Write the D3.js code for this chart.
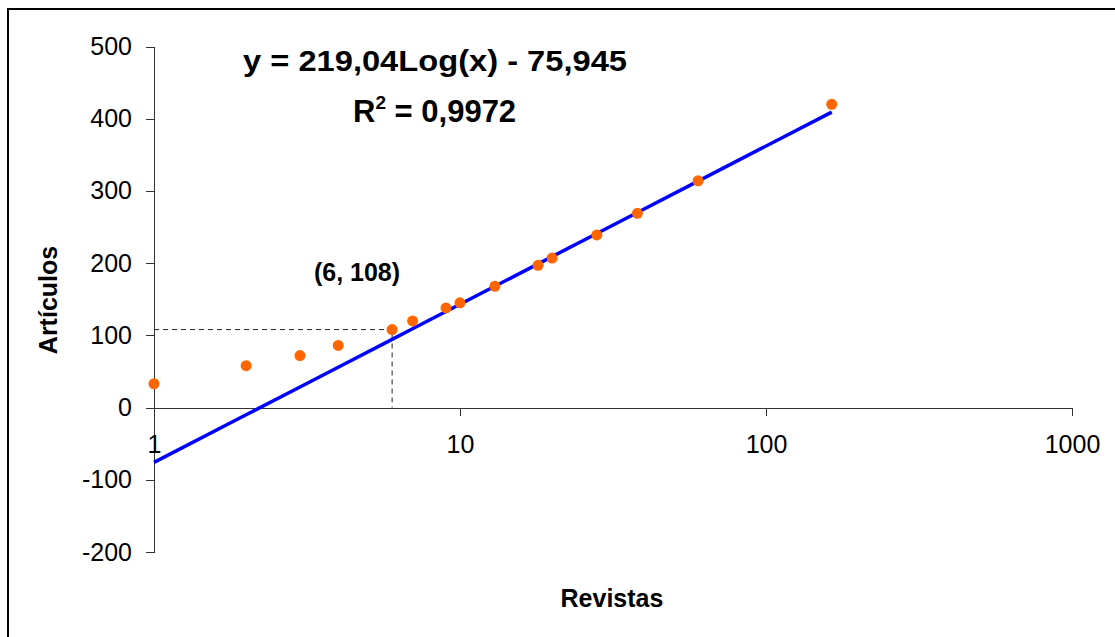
<!DOCTYPE html>
<html>
<head>
<meta charset="utf-8">
<script src="https://cdn.jsdelivr.net/npm/d3@7"></script>
<style>
  body { margin: 0; background: #fff; }
  svg { display: block; font-family: "Liberation Sans", Arial, sans-serif; }
  .axis path, .axis line { stroke: #333; shape-rendering: crispEdges; }
  .axis text { font-size: 25px; fill: #000; }
</style>
</head>
<body>
<svg width="1115" height="637"></svg>
<script>
// data
var revistas  = [1, 2, 3, 4, 6, 7, 9, 10, 13, 18, 20, 28, 38, 60, 164]
var articulos = [33, 58, 72, 86, 108, 120, 138, 145, 168, 197, 207, 239, 269, 314, 420]
var xTicks = [1, 10, 100, 1000]
var yTicks = [-200, -100, 0, 100, 200, 300, 400, 500]
// logarithmic trend line shown on the chart
var trendSlope = 219.04
var trendIntercept = -75.945
var marked = [6, 108]

var svg = d3.select('svg')
var plain = function(d) { return String(d) }   // keeps the ascii hyphen on negatives

// frame (only left and top edges fall inside the picture)
svg.append('rect')
  .attr('x', 8).attr('y', 9)
  .attr('width', 1200).attr('height', 700)
  .attr('fill', 'none')
  .attr('stroke', '#000')
  .attr('stroke-width', 2)

var x = d3.scaleLog().domain([1, 1000]).range([154, 1072])
var y = d3.scaleLinear().domain([-200, 500]).range([552, 46.5])

// y axis
svg.append('g')
  .attr('class', 'axis')
  .attr('transform', 'translate(' + x(1) + ',0)')
  .call(d3.axisLeft(y).tickValues(yTicks).tickSize(8).tickSizeOuter(0).tickPadding(14)
    .tickFormat(plain))

// x axis crossing at y = 0
var xAxis = svg.append('g')
  .attr('class', 'axis')
  .attr('transform', 'translate(0,' + y(0) + ')')
  .call(d3.axisBottom(x).tickValues(xTicks).tickSize(8).tickSizeOuter(0).tickPadding(20)
    .tickFormat(plain))
xAxis.selectAll('.domain').attr('stroke', '#000')

// dashed guide to the marked point
svg.append('path')
  .attr('d', 'M' + x(1) + ',' + y(marked[1]) + 'H' + x(marked[0]) + 'V' + y(0))
  .attr('fill', 'none')
  .attr('stroke', '#222')
  .attr('stroke-width', 1)
  .attr('stroke-dasharray', '5,4')

// trend line
var line = d3.line()
  .x(function(d) { return x(d) })
  .y(function(d) { return y(trendSlope * Math.log10(d) + trendIntercept) })

svg.append('path')
  .datum(revistas)
  .attr('d', line)
  .attr('fill', 'none')
  .attr('stroke', '#0000ff')
  .attr('stroke-width', 3.5)

// points
svg.selectAll('circle.pt')
  .data(revistas)
  .enter()
  .append('circle')
  .classed('pt', true)
  .attr('cx', function(d) { return x(d) })
  .attr('cy', function(d, i) { return y(articulos[i]) })
  .attr('r', 5.5)
  .attr('fill', '#ff6600')

// texts
svg.append('text')
  .attr('x', 243).attr('y', 71)
  .attr('font-size', 30).attr('font-weight', 'bold')
  .attr('textLength', 384).attr('lengthAdjust', 'spacingAndGlyphs')
  .text('y = 219,04Log(x) - 75,945')

var r2 = svg.append('text')
  .attr('x', 353).attr('y', 122)
  .attr('font-size', 31).attr('font-weight', 'bold')
r2.append('tspan').text('R')
r2.append('tspan').attr('font-size', 19).attr('dy', -13).text('2')
r2.append('tspan').attr('dy', 13).text(' = 0,9972')

svg.append('text')
  .attr('x', 357).attr('y', 281)
  .attr('text-anchor', 'middle')
  .attr('font-size', 25).attr('font-weight', 'bold')
  .text('(' + marked[0] + ', ' + marked[1] + ')')

svg.append('text')
  .attr('x', 612).attr('y', 607)
  .attr('text-anchor', 'middle')
  .attr('font-size', 25).attr('font-weight', 'bold')
  .text('Revistas')

svg.append('text')
  .attr('transform', 'translate(57,300) rotate(-90)')
  .attr('text-anchor', 'middle')
  .attr('font-size', 25).attr('font-weight', 'bold')
  .text('Artículos')
</script>
</body>
</html>
